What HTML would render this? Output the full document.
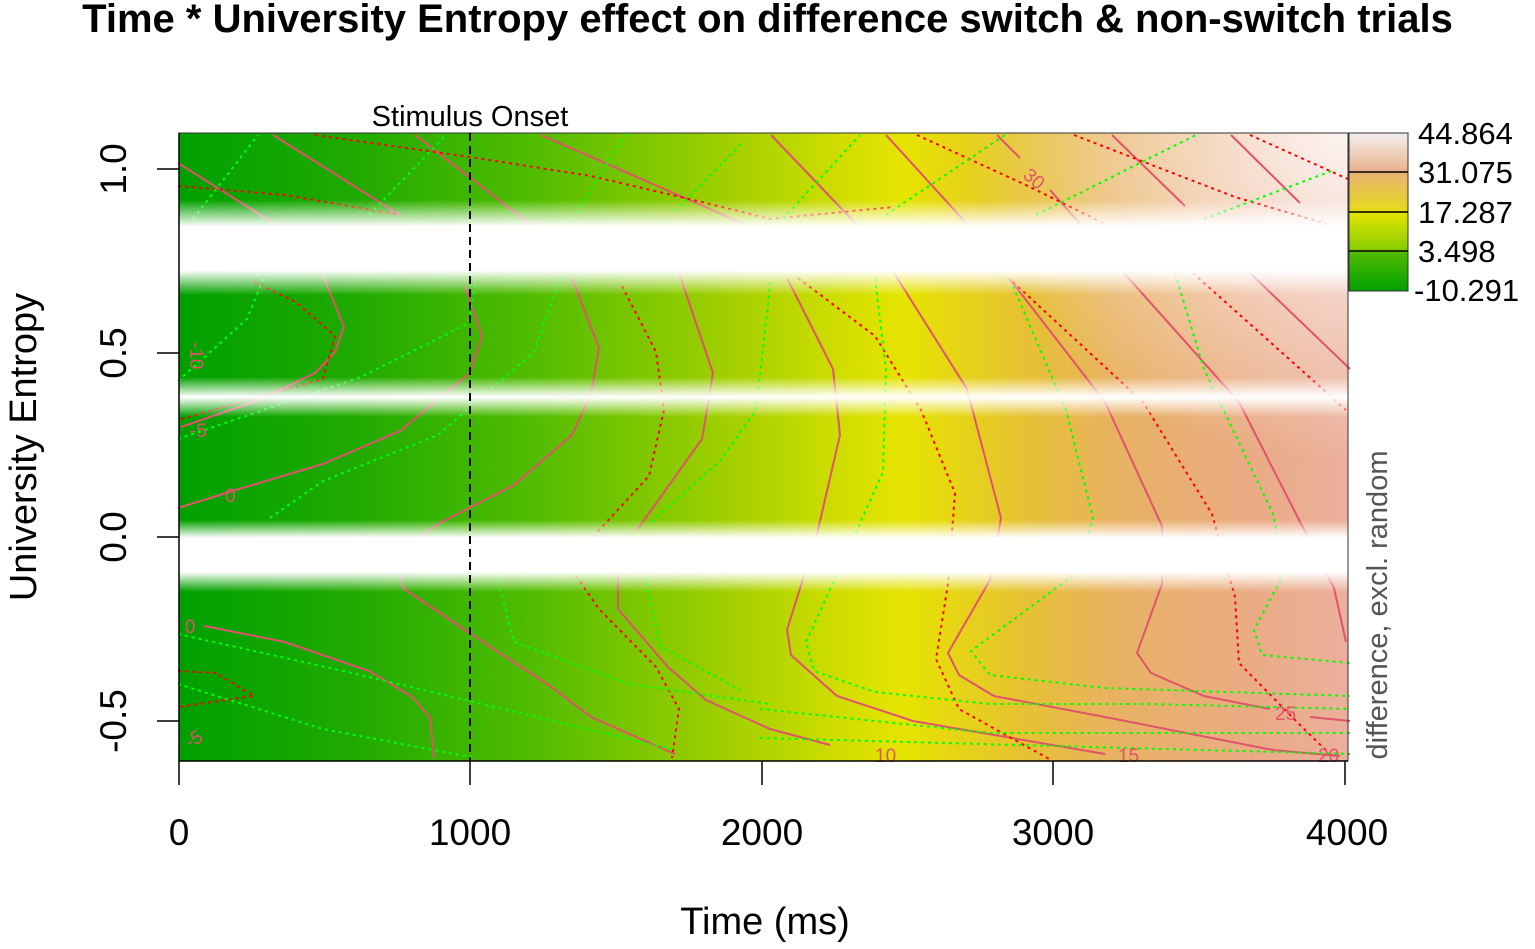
<!DOCTYPE html>
<html><head><meta charset="utf-8"><style>
body{margin:0;width:1535px;height:949px;background:#fff;overflow:hidden;position:relative;font-family:"Liberation Sans",sans-serif;}
.plot{position:absolute;left:179px;top:133px;width:1169px;height:628px;
background:linear-gradient(90deg,#00a000 0%,#20aa00 15%,#50bc00 30%,#98cd00 45%,#d2de00 57%,#e6e400 62%,#e6c230 72%,#e8b262 80%,#eaab85 92%,#ebb09c 100%);}
.tr{position:absolute;left:179px;top:133px;width:1169px;height:628px;
background:radial-gradient(ellipse 380px 330px at 100% 0%,rgba(255,255,255,0.85),rgba(255,255,255,0) 100%);}
.band{position:absolute;left:179px;width:1169px;}
.t{position:absolute;white-space:nowrap;}
</style></head><body>
<div class="t" style="left:0;width:1535px;top:-3px;text-align:center;font-weight:bold;font-size:40px;">Time * University Entropy effect on difference switch &amp; non-switch trials</div>
<div class="plot"></div><div class="tr"></div>
<svg style="position:absolute;left:0;top:0" width="1535" height="949">
<g fill="none" stroke="#DF536B" stroke-width="2">
<polyline points="178,163 281,228"/>
<polyline points="323,275 344,327 335,352 315,373 254,402 181,427"/>
<polyline points="273,135 400,215"/>
<polyline points="465,286 482,336 470,373 400,431 323,464 239,489 178,508"/>
<polyline points="400,568 403,588 468,632 553,688 591,717 675,754"/>
<polyline points="204,626 285,642 369,671 411,696 430,717 434,758"/>
<polyline points="415,135 530,224"/>
<polyline points="572,278 599,348 591,394 572,435 514,485 438,524 415,540"/>
<polyline points="618,563 618,609 668,667 706,700 770,729 830,745"/>
<polyline points="541,135 744,224"/>
<polyline points="679,273 713,373 702,439 637,530"/>
<polyline points="771,135 860,228"/>
<polyline points="787,278 833,369 840,435 817,534 787,630 791,655 837,696 913,721 1105,754"/>
<polyline points="886,135 967,224"/>
<polyline points="894,273 967,389 1001,518 990,580 948,653 959,675 994,696 1105,717 1273,750 1340,756"/>
<polyline points="997,135 1020,158"/><polyline points="1050,190 1082,226"/>
<polyline points="1009,278 1105,402 1162,526 1162,584 1137,653 1151,673 1204,696 1270,709"/><polyline points="1310,717 1350,721"/>
<polyline points="1112,135 1185,206"/>
<polyline points="1124,273 1239,402 1296,514 1334,588 1346,642"/>
<polyline points="1231,135 1300,203"/>
<polyline points="1250,273 1350,369"/>
</g>
<g fill="none" stroke="#ff0000" stroke-width="2" stroke-dasharray="3,4">
<polyline points="178,186 285,195 400,215"/>
<polyline points="315,135 470,157 591,176 706,203 770,219 894,207"/>
<polyline points="254,282 296,302 335,336 323,379 178,420"/>
<polyline points="622,286 656,352 664,410 649,476 591,539"/>
<polyline points="576,576 599,609 656,667 679,709 672,758"/>
<polyline points="178,671 216,673 254,696 178,707"/>
<polyline points="917,135 1028,186 1105,224"/>
<polyline points="1074,135 1235,197 1327,224"/>
<polyline points="1250,135 1350,180"/>
<polyline points="798,278 875,336 921,410 955,493 948,584 936,659 959,709 1051,760"/>
<polyline points="1013,282 1143,402 1212,514 1235,597 1239,663 1304,729 1334,758"/>
<polyline points="1193,273 1346,410"/>
</g>
<g fill="none" stroke="#00ff00" stroke-width="2" stroke-dasharray="3,4">
<polyline points="178,381 247,319 266,273"/>
<polyline points="193,219 258,135"/>
<polyline points="178,439 361,377 469,323 476,278"/>
<polyline points="369,215 446,135"/>
<polyline points="270,518 323,481 438,435 534,352 560,278"/>
<polyline points="572,219 625,135"/>
<polyline points="178,634 361,675 553,721 675,750"/>
<polyline points="178,684 323,729 476,758"/>
<polyline points="495,568 514,642 629,684 770,704"/>
<polyline points="645,576 660,646 740,690"/>
<polyline points="652,522 721,460 756,410 771,278"/>
<polyline points="675,211 744,141"/>
<polyline points="783,219 860,135"/>
<polyline points="875,278 886,369 883,472 844,559 806,642 814,671 875,692 990,704 1150,704 1350,709"/>
<polyline points="886,215 1005,135"/>
<polyline points="1013,286 1066,410 1093,518 1078,572 971,651 990,675 1105,688 1350,696"/>
<polyline points="1036,215 1196,135"/>
<polyline points="1175,273 1204,369 1273,514 1285,572 1254,630 1262,655 1350,663"/>
<polyline points="1204,219 1334,170"/>
<polyline points="760,709 990,733 1350,733"/>
<polyline points="760,738 1350,754"/>
</g>
<g font-size="19" fill="#DF536B" font-family="Liberation Sans,sans-serif">
<text x="225" y="502">0</text><text x="197" y="335" transform="rotate(90 190 335)">-10</text>
<text x="190" y="437">-5</text><text x="185" y="633">0</text><text x="186" y="745" transform="rotate(-30 195 740)">-5</text>
<text x="1024" y="185" transform="rotate(40 1034 178)">30</text><text x="1275" y="720">25</text>
<text x="875" y="762">10</text><text x="1118" y="762">15</text><text x="1318" y="762">20</text>
</g>
</svg>
<div class="band" style="top:200px;height:95px;background:linear-gradient(rgba(255,255,255,0),#fff 28%,#fff 74%,rgba(255,255,255,0))"></div>
<div class="band" style="top:377px;height:40px;background:linear-gradient(rgba(255,255,255,0),#fff 50%,rgba(255,255,255,0))"></div>
<div class="band" style="top:520px;height:72px;background:linear-gradient(rgba(255,255,255,0),#fff 25%,#fff 72%,rgba(255,255,255,0))"></div>
<svg style="position:absolute;left:0;top:0" width="1535" height="949">
<rect x="179" y="133" width="1169" height="628" fill="none" stroke="#333" stroke-width="1"/>
<line x1="470" y1="133" x2="470" y2="761" stroke="#000" stroke-width="2" stroke-dasharray="8,5"/>
<g stroke="#000" stroke-width="1.5">
<line x1="179" y1="169" x2="157" y2="169"/><line x1="179" y1="353" x2="157" y2="353"/><line x1="179" y1="537" x2="157" y2="537"/><line x1="179" y1="721" x2="157" y2="721"/>
<line x1="179" y1="761" x2="179" y2="133"/><line x1="179" y1="761" x2="1348" y2="761"/>
<line x1="179" y1="761" x2="179" y2="785"/><line x1="470" y1="761" x2="470" y2="785"/><line x1="762" y1="761" x2="762" y2="785"/><line x1="1053" y1="761" x2="1053" y2="785"/><line x1="1345" y1="761" x2="1345" y2="785"/>
</g>
<defs><linearGradient id="cb" x1="0" y1="0" x2="0" y2="1">
<stop offset="0" stop-color="#f4eeee"/><stop offset="0.24" stop-color="#e9b48e"/><stop offset="0.26" stop-color="#e8b470"/><stop offset="0.48" stop-color="#e6d820"/><stop offset="0.52" stop-color="#dfe400"/><stop offset="0.74" stop-color="#88cc00"/><stop offset="0.76" stop-color="#50bb00"/><stop offset="1" stop-color="#00a000"/></linearGradient></defs>
<rect x="1349" y="133" width="59" height="158" fill="url(#cb)" stroke="#333" stroke-width="1"/>
<g stroke="#000" stroke-width="1.5"><line x1="1349" y1="172" x2="1408" y2="172"/><line x1="1349" y1="212" x2="1408" y2="212"/><line x1="1349" y1="251" x2="1408" y2="251"/></g>
<g font-size="37" font-family="Liberation Sans,sans-serif" text-anchor="middle">
<text x="126" y="169" transform="rotate(-90 126 169)">1.0</text>
<text x="126" y="353" transform="rotate(-90 126 353)">0.5</text>
<text x="126" y="537" transform="rotate(-90 126 537)">0.0</text>
<text x="126" y="721" transform="rotate(-90 126 721)">-0.5</text>
<text x="179" y="845">0</text><text x="470" y="845">1000</text><text x="762" y="845">2000</text><text x="1053" y="845">3000</text><text x="1347" y="845">4000</text>
<text x="765" y="934" font-size="38">Time (ms)</text>
<text x="36" y="447" font-size="38" transform="rotate(-90 36 447)">University Entropy</text>
</g>
<text x="470" y="126" font-size="29" text-anchor="middle" font-family="Liberation Sans,sans-serif">Stimulus Onset</text>
<text x="1387" y="605" font-size="29" fill="#555" text-anchor="middle" font-family="Liberation Sans,sans-serif" transform="rotate(-90 1387 605)">difference, excl. random</text>
<g font-size="31" font-family="Liberation Sans,sans-serif">
<text x="1418" y="144">44.864</text><text x="1418" y="183">31.075</text><text x="1418" y="223">17.287</text><text x="1418" y="262">3.498</text><text x="1414" y="301">-10.291</text>
</g>
</svg>
</body></html>
